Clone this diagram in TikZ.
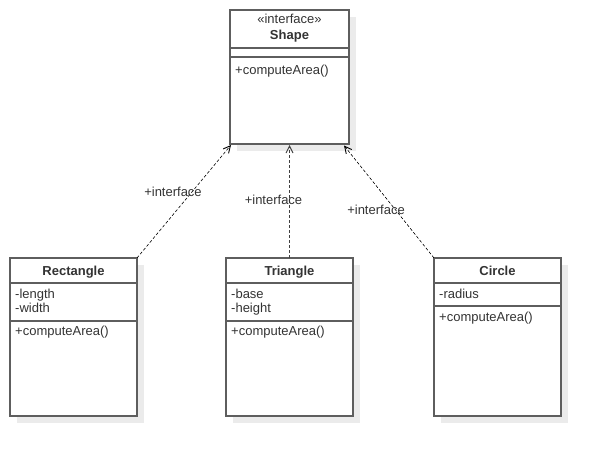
\documentclass[tikz,border=0pt]{standalone}
\usepackage{fontspec}
\setmainfont{Liberation Sans}
\usetikzlibrary{shadows,arrows.meta}
\definecolor{linec}{HTML}{5E5E5E}
\definecolor{txtc}{HTML}{333333}
\definecolor{shadc}{HTML}{EBEBEB}
\begin{document}
\begin{tikzpicture}[x=1pt,y=-1pt,
  classbox/.style={draw=linec, line width=1.2pt, fill=white, anchor=north west,
    inner sep=0pt, outer sep=0pt, minimum width=127pt, minimum height=158pt,
    drop shadow={shadow xshift=7pt, shadow yshift=-7pt, fill=shadc, opacity=1}},
  sepline/.style={draw=linec, line width=1.2pt},
  txt/.style={inner sep=0pt, text=txtc, text height=10.5pt, text depth=1.5pt,
    font=\fontsize{13}{15}\selectfont},
  member/.style={txt, anchor=west},
  ctitle/.style={txt, anchor=center, font=\fontsize{13}{15}\selectfont\bfseries},
  lbl/.style={txt, anchor=center},
  realize/.style={dash pattern=on 3pt off 2pt, draw=black, line width=0.6pt,
    -{Straight Barb[length=7pt,width=7pt,line width=0.9pt]}}
]
\useasboundingbox (0,0) rectangle (601,457);

% interface
\node[classbox, minimum width=119pt, minimum height=134pt] (shape) at (230,10) {};
\draw[sepline] ([yshift=-38pt]shape.north west) -- ([yshift=-38pt]shape.north east);
\draw[sepline] ([yshift=-47pt]shape.north west) -- ([yshift=-47pt]shape.north east);
\node[lbl] (shapester) at (289.5,19.5) {«interface»};
\node[ctitle] (shapetitle) at (289.5,35) {Shape};
\node[member] (shapeop) at (235,70) {+computeArea()};

% Rectangle
\node[classbox] (rect) at (10,258) {};
\draw[sepline] ([yshift=-25pt]rect.north west) -- ([yshift=-25pt]rect.north east);
\draw[sepline] ([yshift=-63pt]rect.north west) -- ([yshift=-63pt]rect.north east);
\node[ctitle] (recttitle) at (73.5,270.5) {Rectangle};
\node[member] (recta1) at (15,293.5) {-length};
\node[member] (recta2) at (15,308) {-width};
\node[member] (rectop) at (15,331) {+computeArea()};

% Triangle
\node[classbox] (tri) at (226,258) {};
\draw[sepline] ([yshift=-25pt]tri.north west) -- ([yshift=-25pt]tri.north east);
\draw[sepline] ([yshift=-63pt]tri.north west) -- ([yshift=-63pt]tri.north east);
\node[ctitle] (trititle) at (289.5,270.5) {Triangle};
\node[member] (tria1) at (231,293.5) {-base};
\node[member] (tria2) at (231,308) {-height};
\node[member] (triop) at (231,331) {+computeArea()};

% Circle
\node[classbox] (circ) at (434,258) {};
\draw[sepline] ([yshift=-25pt]circ.north west) -- ([yshift=-25pt]circ.north east);
\draw[sepline] ([yshift=-48pt]circ.north west) -- ([yshift=-48pt]circ.north east);
\node[ctitle] (circtitle) at (497.5,270.5) {Circle};
\node[member] (circa1) at (439,293.5) {-radius};
\node[member] (circop) at (439,317) {+computeArea()};

% realizations
\draw[realize] (rect.north east) -- ([xshift=1pt,yshift=-1pt]shape.south west);
\draw[realize, draw=black!75, line width=1.2pt] (tri.north) -- ([yshift=-1pt]shape.south);
\draw[realize] (circ.north west) -- ([xshift=-5pt,yshift=-1.5pt]shape.south east);

\node[lbl] (l1) at (173,191.5) {+interface};
\node[lbl] (l2) at (273.5,199.5) {+interface};
\node[lbl] (l3) at (376,209.5) {+interface};
\end{tikzpicture}
\end{document}
